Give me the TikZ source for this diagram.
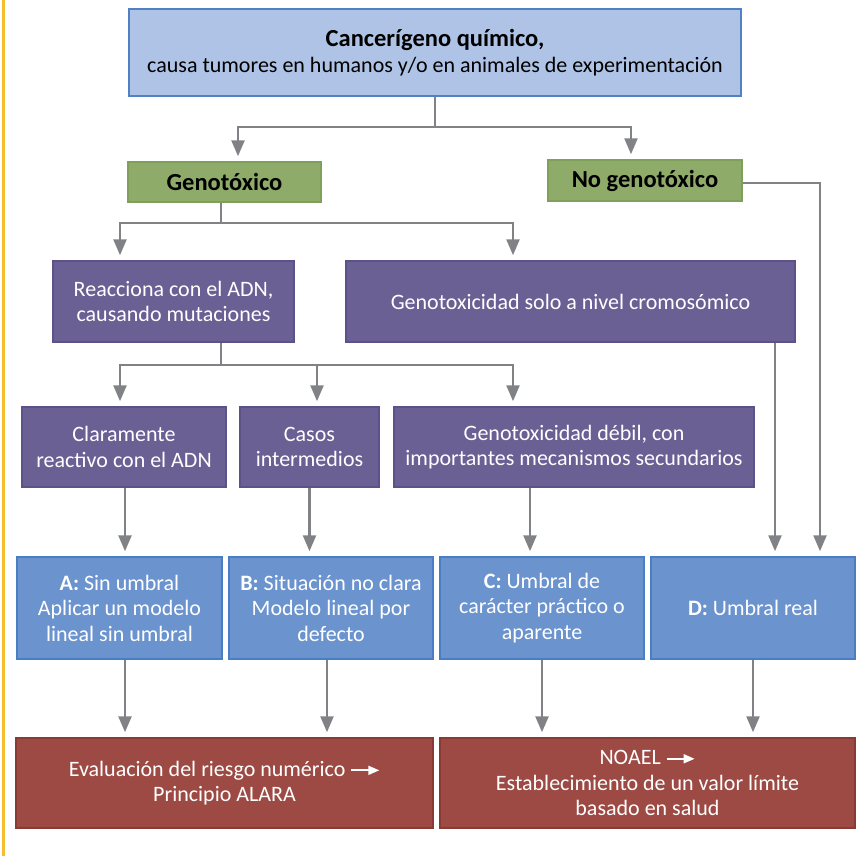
\documentclass[tikz,border=0pt]{standalone}
\usepackage{fontspec}
\setmainfont{Carlito}
\usepackage{tikz}
\usetikzlibrary{arrows.meta,positioning}
\usepackage{xcolor}

\definecolor{cqfill}{HTML}{AEC3E5}
\definecolor{cqline}{HTML}{4F81C4}
\definecolor{genfill}{HTML}{8FAB69}
\definecolor{genline}{HTML}{7FA05B}
\definecolor{purfill}{HTML}{6B6094}
\definecolor{purline}{HTML}{5C5189}
\definecolor{umbfill}{HTML}{6B93CE}
\definecolor{umbline}{HTML}{4A7EC4}
\definecolor{evalfill}{HTML}{9C4A43}
\definecolor{evalline}{HTML}{8A3A33}
\definecolor{arrgray}{HTML}{808285}
\definecolor{frameyellow}{HTML}{F6BE2F}

\newcommand{\wharr}{\tikz[baseline=-0.55ex]\draw[white, line width=1.8pt, -{Triangle[width=9pt,length=11pt]}] (0pt,0pt) -- (28pt,0pt);}

\begin{document}
\begin{tikzpicture}[x=1pt, y=-1pt,
    box/.style={rectangle, line width=1.5pt, inner sep=0pt, align=center, font=\fontsize{22}{25.5}\selectfont},
    cqbox/.style={box, fill=cqfill, draw=cqline, text=black},
    genbox/.style={box, fill=genfill, draw=genline, text=black, font=\fontsize{24.5}{28}\selectfont\bfseries},
    purbox/.style={box, fill=purfill, draw=purline, text=white},
    umbbox/.style={box, fill=umbfill, draw=umbline, text=white},
    evalbox/.style={box, fill=evalfill, draw=evalline, text=white},
    ln/.style={draw=arrgray, line width=2.5pt},
    arr/.style={ln, -{Triangle[width=13pt,length=16pt]}, shorten >=5pt}
  ]
    \useasboundingbox (0,0) rectangle (856,856);
    \draw[frameyellow, line width=3pt] (3.5,0) -- (3.5,856);

    \node[cqbox, minimum width=612pt, minimum height=87pt] (CQ) at (435, 52.5)
    {{\fontsize{24.5}{29}\selectfont\bfseries Cancerígeno químico,}\\causa tumores en humanos y/o en animales de experimentación};

    \node[genbox, minimum width=193pt, minimum height=40pt] (G1) at (224.5, 182) {Genotóxico};
    \node[genbox, minimum width=194pt, minimum height=41pt] (G2) at (645, 180.5) {No genotóxico};

    \node[purbox, minimum width=241pt, minimum height=81pt] (P1) at (173.5, 301.5) {Reacciona con el ADN,\\causando mutaciones};
    \node[purbox, minimum width=449pt, minimum height=81pt] (P2) at (570.5, 301.5) {Genotoxicidad solo a nivel cromosómico};

    \node[purbox, minimum width=204pt, minimum height=80pt] (P3) at (124, 447) {Claramente\\reactivo con el ADN};
    \node[purbox, minimum width=139pt, minimum height=80pt] (P4) at (309.5, 447) {Casos\\intermedios};
    \node[purbox, minimum width=360pt, minimum height=80pt] (P5) at (574, 447) {Genotoxicidad débil, con\\importantes mecanismos secundarios};

    \node[umbbox, minimum width=205pt, minimum height=102pt] (U1) at (119.5, 608) {\textbf{A:} Sin umbral\\Aplicar un modelo\\lineal sin umbral};
    \node[umbbox, minimum width=204pt, minimum height=102pt] (U2) at (331, 608) {\textbf{B:} Situación no clara\\Modelo lineal por\\defecto};
    \node[umbbox, minimum width=204pt, minimum height=102pt] (U3) at (542, 608) {\textbf{C:} Umbral de\\carácter práctico o\\aparente};
    \node[umbbox, minimum width=204pt, minimum height=102pt] (U4) at (753, 608) {\textbf{D:} Umbral real};

    \node[evalbox, minimum width=417pt, minimum height=90pt] (E1) at (224.5, 783) {Evaluación del riesgo numérico \wharr\\Principio ALARA};
    \node[evalbox, minimum width=415pt, minimum height=90pt] (E2) at (647.5, 783) {NOAEL \wharr\\Establecimiento de un valor límite\\basado en salud};

    \coordinate (J1) at (435, 127);
    \draw[ln] (CQ.south) -- (J1);
    \draw[arr] (J1) -| ([xshift=13.5pt]G1.north);
    \draw[arr] (J1) -| ([xshift=-14pt]G2.north);

    \coordinate (J2) at (221, 223);
    \draw[ln] (G1.south -| J2) -- (J2);
    \draw[arr] (J2) -| ([xshift=-53.5pt]P1.north);
    \draw[arr] (J2) -| ([xshift=-57.5pt]P2.north);

    \coordinate (J3) at (221, 365);
    \draw[ln] (P1.south -| J3) -- (J3);
    \draw[arr] (J3) -| ([xshift=-4pt]P3.north);
    \draw[arr] (J3) -| ([xshift=7.5pt]P4.north);
    \draw[arr] (J3) -| ([xshift=-61pt]P5.north);

    \draw[arr] ([xshift=1pt]P3.south) -- ([xshift=1pt]P3.south |- U1.north);
    \draw[arr] (P4.south) -- (P4.south |- U2.north);
    \draw[arr] ([xshift=-44pt]P5.south) -- ([xshift=-44pt]P5.south |- U3.north);
    \draw[arr] ([xshift=204.5pt]P2.south) -- ([xshift=204.5pt]P2.south |- U4.north);
    \draw[arr] ([yshift=-2.5pt]G2.east) -| ([xshift=67pt]U4.north);

    \draw[arr] ([xshift=5.5pt]U1.south) -- ([xshift=5.5pt]U1.south |- E1.north);
    \draw[arr] ([xshift=-4pt]U2.south) -- ([xshift=-4pt]U2.south |- E1.north);
    \draw[arr] (U3.south) -- (U3.south |- E2.north);
    \draw[arr] (U4.south) -- (U4.south |- E2.north);
\end{tikzpicture}
\end{document}
